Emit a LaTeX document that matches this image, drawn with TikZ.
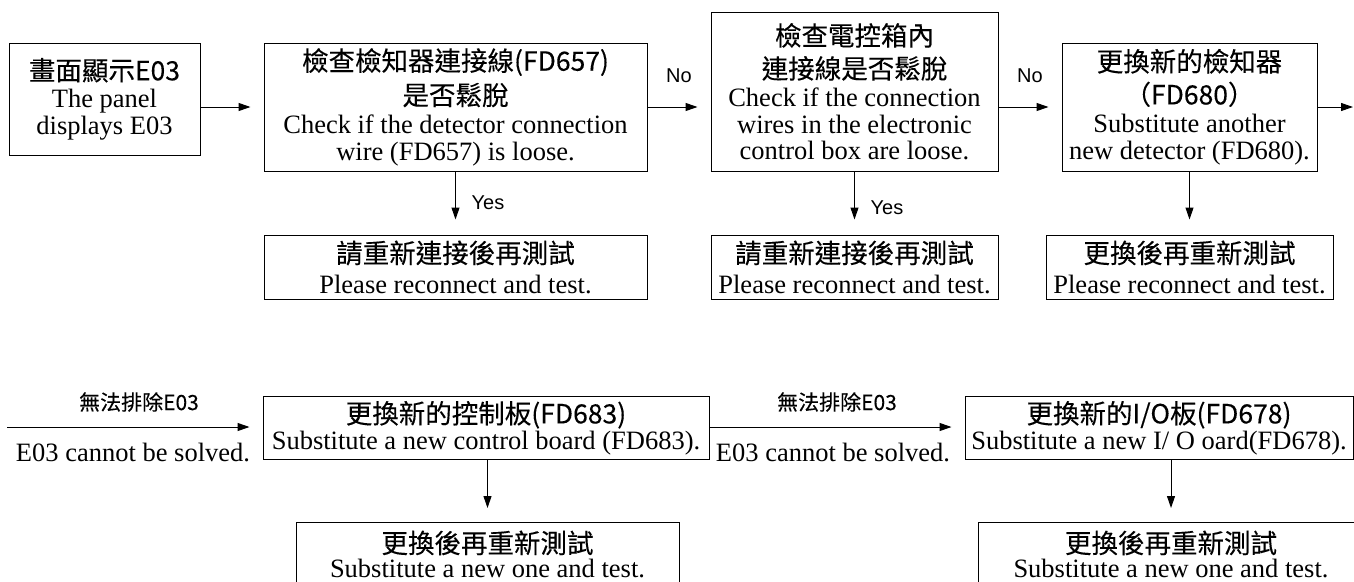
\documentclass[tikz,border=0pt]{standalone}
\usepackage{fontspec}
\setmainfont{Liberation Serif}
\newfontfamily\cjk[FakeBold=0.2]{Noto Sans CJK TC}
\newfontfamily\lab{Liberation Sans}
\usetikzlibrary{arrows.meta}
\begin{document}
\begin{tikzpicture}[x=1pt,y=-1pt,
  box/.style={draw, line width=1pt, inner sep=0pt, align=center, font=\fontsize{26.5}{27}\selectfont},
  arr/.style={line width=1pt, -{Triangle[length=12pt,width=8pt]}},
  lbl/.style={font=\lab\fontsize{20}{20}\selectfont, inner sep=0pt},
  clbl/.style={font=\cjk\fontsize{21}{21}\selectfont, inner sep=0pt},
  etxt/.style={font=\fontsize{26.5}{27}\selectfont, inner sep=0pt}]
\useasboundingbox (0,0) rectangle (1354,581);

% top row
\node[box, minimum width=191pt, minimum height=112pt] (A) at (104.5,99)
  {{\cjk 畫面顯示E03}\\The panel\\displays E03};
\node[box, minimum width=383pt, minimum height=128pt] (B) at (455.5,107)
  {{\cjk 檢查檢知器連接線(FD657)}\\[6pt]{\cjk 是否鬆脫}\\[1pt]Check if the detector connection\\wire (FD657) is loose.};
\node[box, minimum width=287pt, minimum height=159pt] (C) at (854.5,91.5)
  {{\cjk 檢查電控箱內}\\[6pt]{\cjk 連接線是否鬆脫}\\[1pt]Check if the connection\\wires in the electronic\\[-1pt]control box are loose.};
\node[box, minimum width=255pt, minimum height=128pt] (D) at (1189.5,107)
  {{\cjk 更換新的檢知器}\\[6pt]{\cjk （FD680）}\\[1pt]Substitute another\\new detector (FD680).};

\node[box, minimum width=383pt, minimum height=64pt] (B2) at (455.5,267)
  {{\cjk 請重新連接後再測試}\\[3pt]Please reconnect and test.};
\node[box, minimum width=287pt, minimum height=64pt] (C2) at (854.5,267)
  {{\cjk 請重新連接後再測試}\\[3pt]Please reconnect and test.};
\node[box, minimum width=287pt, minimum height=64pt] (D2) at (1189.5,267)
  {{\cjk 更換後再重新測試}\\[3pt]Please reconnect and test.};

% bottom row
\node[box, minimum width=446pt, minimum height=63pt] (E) at (486,428)
  {{\cjk 更換新的控制板(FD683)}\\[-1pt]Substitute a new control board (FD683).};
\node[box, minimum width=388pt, minimum height=63pt] (F) at (1159,428)
  {{\cjk 更換新的I/O板(FD678)}\\[-1pt]Substitute a new I/ O oard(FD678).};
\node[box, minimum width=383pt, minimum height=63pt] (E2) at (487.5,554)
  {{\cjk 更換後再重新測試}\\[-3pt]Substitute a new one and test.};
\node[box, minimum width=386pt, minimum height=63pt] (F2) at (1171,554)
  {{\cjk 更換後再重新測試}\\[-3pt]Substitute a new one and test.};

% connectors top
\draw[arr, shorten >=13pt] (A.east |- B.west) -- (B.west);
\draw[arr, shorten >=13pt] (B.east) -- (B.east -| C.west);
\draw[arr, shorten >=13pt] (C.east |- D.west) -- (D.west);
\coordinate (out) at (1353,107);
\draw[arr] (D.east) -- (out);
\draw[arr, shorten >=15pt] (B.south) -- (B2.north);
\draw[arr, shorten >=15pt] (C.south) -- (C2.north);
\draw[arr, shorten >=15pt] (D.south) -- (D2.north);

\node[lbl] (no1) at (679,76) {No};
\node[lbl] (no2) at (1030,76) {No};
\node[lbl] (yes1) at (488,203) {Yes};
\node[lbl] (yes2) at (887,208) {Yes};

% connectors bottom
\coordinate (in) at (7,427);
\draw[arr, shorten >=13pt] (in) -- (in -| E.west);
\draw[arr, shorten >=13pt] (E.east |- in) -- (F.west |- in);
\draw[arr, shorten >=14pt] (E2.north |- E.south) -- (E2.north);
\draw[arr, shorten >=14pt] (F2.north |- F.south) -- (F2.north);

\node[clbl] (l1) at (139,402) {無法排除E03};
\node[clbl] (l2) at (837,402) {無法排除E03};
\node[etxt] (s1) at (133,452) {E03 cannot be solved.};
\node[etxt] (s2) at (833,452) {E03 cannot be solved.};
\end{tikzpicture}
\end{document}
